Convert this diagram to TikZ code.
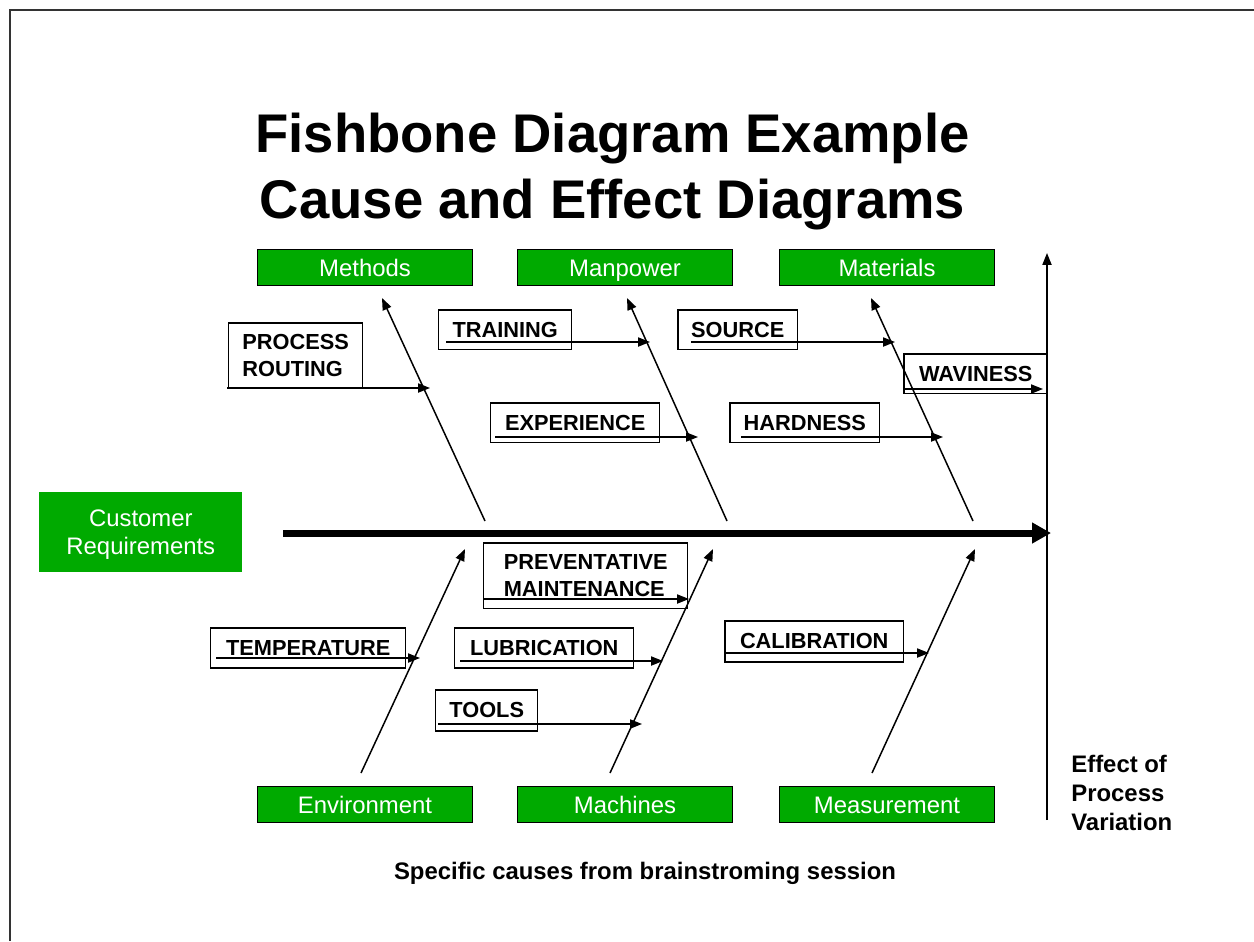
\documentclass[tikz,border=0pt]{standalone}
\usepackage{fontspec}
\setmainfont{Liberation Sans}
\usetikzlibrary{arrows.meta}
\definecolor{fgreen}{RGB}{0,170,0}
\begin{document}
\begin{tikzpicture}[x=0.02cm,y=-0.02cm,
  catbox/.style={draw=black,line width=0.6pt,fill=fgreen,text=white,
    font=\fontsize{13.6}{16}\selectfont,minimum width=4.3cm,minimum height=0.72cm,
    text height=9.9pt,text depth=0pt,
    anchor=north west,inner sep=0pt},
  causebox/.style={draw=black,line width=0.85pt,
    font=\bfseries\fontsize{12.4}{15.5}\selectfont,align=left,
    anchor=north west,inner sep=0pt},
  causearrow/.style={line width=0.85pt,-{Triangle[length=6.8pt,width=5.2pt]}},
  bone/.style={line width=0.85pt,-{Triangle[length=6.8pt,width=5.2pt]}},
  spine/.style={line width=4pt,-{Triangle[length=10.8pt,width=11.3pt]}},
  plaintext/.style={font=\bfseries\fontsize{13.6}{16.4}\selectfont,inner sep=0pt,align=left}
]
\useasboundingbox (0,0) rectangle (1254,941);
\fill[white] (0,0) rectangle (1254,941);
% frame
\draw[line width=1.2pt,black!80] (10,941) -- (10,10) -- (1254,10);

% title
\node[font=\bfseries\fontsize{31}{37.4}\selectfont,align=center,anchor=north,inner sep=0pt]
  (title) at (612.5,113) {Fishbone Diagram Example\\Cause and Effect Diagrams};

% category boxes
\node[catbox] (methods) at (257,249) {Methods};
\node[catbox] (manpower) at (517,249) {Manpower};
\node[catbox] (materials) at (779,249) {Materials};
\node[catbox] (environment) at (257,786) {Environment};
\node[catbox] (machines) at (517,786) {Machines};
\node[catbox] (measurement) at (779,786) {Measurement};
\node[fill=fgreen,text=white,font=\fontsize{13.6}{15.9}\selectfont,align=center,
  minimum width=4.06cm,minimum height=1.6cm,anchor=north west,inner sep=0pt,
  text depth=0pt]
  (customer) at (39,492) {Customer\\Requirements};

% spine and effect axis
\coordinate (spS) at (283,533);
\coordinate (spE) at (1051,533);
\draw[spine] (spS) -- (spE);
\coordinate (vB) at (1047,820);
\coordinate (vT) at (1047,253);
\draw[bone] (vB) -- (vT);

% bones
\coordinate (b1S) at (485,521); \coordinate (b1E) at (382,298);
\coordinate (b2S) at (727,521); \coordinate (b2E) at (627,298);
\coordinate (b3S) at (973,521); \coordinate (b3E) at (871,298);
\coordinate (b4S) at (361,773); \coordinate (b4E) at (465,549);
\coordinate (b5S) at (610,773); \coordinate (b5E) at (713,549);
\coordinate (b6S) at (872,773); \coordinate (b6E) at (975,549);
\draw[bone] (b1S) -- (b1E);
\draw[bone] (b2S) -- (b2E);
\draw[bone] (b3S) -- (b3E);
\draw[bone] (b4S) -- (b4E);
\draw[bone] (b5S) -- (b5E);
\draw[bone] (b6S) -- (b6E);

% cause boxes
\node[causebox,minimum width=2.68cm,minimum height=1.32cm] (routing) at (228,322) {PROCESS\\ROUTING};
\node[causebox,minimum width=2.66cm,minimum height=0.8cm] (training) at (438,309) {TRAINING};
\node[causebox,minimum width=2.4cm,minimum height=0.8cm] (source) at (677,309) {SOURCE};
\node[causebox,minimum width=2.88cm,minimum height=0.8cm] (waviness) at (903,353) {WAVINESS};
\node[causebox,minimum width=3.38cm,minimum height=0.8cm] (experience) at (490,402) {EXPERIENCE};
\node[causebox,minimum width=3.0cm,minimum height=0.8cm] (hardness) at (729,402) {HARDNESS};
\node[causebox,minimum width=4.08cm,minimum height=1.32cm] (prevent) at (483,542) {PREVENTATIVE\\MAINTENANCE};
\node[causebox,minimum width=3.58cm,minimum height=0.8cm] (lubrication) at (454,627) {LUBRICATION};
\node[causebox,minimum width=2.04cm,minimum height=0.82cm] (tools) at (435,689) {TOOLS};
\node[causebox,minimum width=3.9cm,minimum height=0.8cm] (temperature) at (210,627) {TEMPERATURE};
\node[causebox,minimum width=3.58cm,minimum height=0.82cm] (calibration) at (724,620) {CALIBRATION};

% cause arrows
\coordinate (c1S) at (227,388); \coordinate (c1E) at (430,388);
\coordinate (c2S) at (446,342); \coordinate (c2E) at (650,342);
\coordinate (c3S) at (691,342); \coordinate (c3E) at (895,342);
\coordinate (c4S) at (904,389); \coordinate (c4E) at (1043,389);
\coordinate (c5S) at (495,437); \coordinate (c5E) at (698,437);
\coordinate (c6S) at (741,437); \coordinate (c6E) at (943,437);
\coordinate (c7S) at (483,599); \coordinate (c7E) at (689,599);
\coordinate (c8S) at (460,661); \coordinate (c8E) at (663,661);
\coordinate (c9S) at (438,724); \coordinate (c9E) at (642,724);
\coordinate (c10S) at (216,658); \coordinate (c10E) at (420,658);
\coordinate (c11S) at (726,653); \coordinate (c11E) at (929,653);
\foreach \i in {1,...,11} {\draw[causearrow] (c\i S) -- (c\i E);}

% texts
\node[plaintext,anchor=north west] (effect) at (1071,755) {Effect of\\Process\\Variation};
\node[plaintext] (caption) at (645,873) {Specific causes from brainstroming session};
\end{tikzpicture}
\end{document}
